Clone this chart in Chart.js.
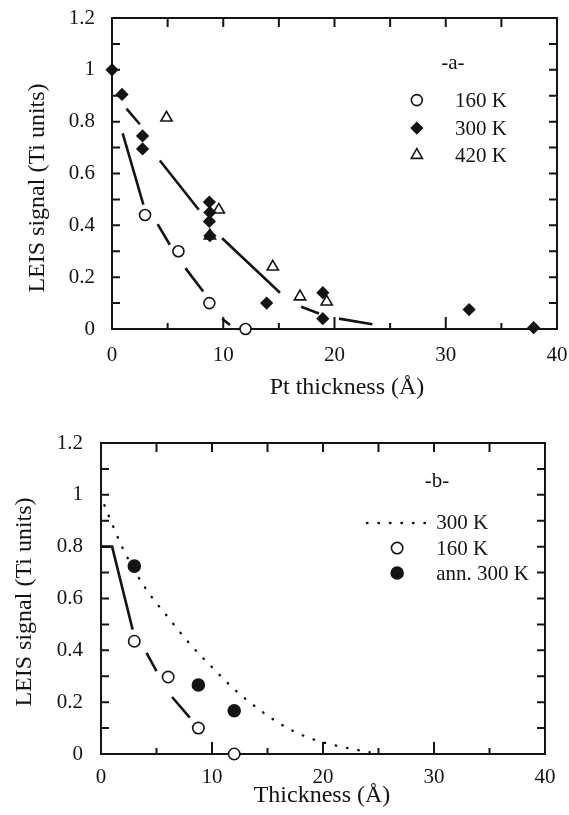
<!DOCTYPE html>
<html>
<head>
<meta charset="utf-8">
<script src="https://cdn.jsdelivr.net/npm/chart.js@4.4.1/dist/chart.umd.min.js"></script>
<style>
  html, body { margin: 0; padding: 0; background: #fff; }
  .panel { position: absolute; left: 0; width: 569px; }
</style>
</head>
<body>
<div class="panel" style="top:0;height:408px"><canvas id="chartA"></canvas></div>
<div class="panel" style="top:408px;height:407px"><canvas id="chartB"></canvas></div>
<script>
// ---- panel a : LEIS signal vs Pt thickness ----
const circA_x = [2.97, 5.97, 8.75, 12.0];
const circA_y = [0.44, 0.30, 0.10, 0.0];
const diamA_x = [0, 0.9, 2.75, 2.75, 8.75, 8.8, 8.75, 8.8, 13.9, 18.95, 18.95, 32.1, 37.9];
const diamA_y = [1.0, 0.905, 0.745, 0.695, 0.49, 0.45, 0.415, 0.36, 0.10, 0.14, 0.04, 0.075, 0.005];
const triA_x = [4.9, 9.6, 8.8, 14.45, 16.9, 19.3];
const triA_y = [0.815, 0.46, 0.36, 0.24, 0.125, 0.105];
// dashed guide curves (null = gap in the dash)
const fit160A_x = [0.96, 2.82, 3.5, 4.1, 5.2, 5.9, 6.6, 8.2, 9.0, 9.9, 10.6];
const fit160A_y = [0.755, 0.48, null, 0.405, 0.325, null, 0.235, 0.145, null, 0.04, 0.015];
const fit300A_x = [1.3, 2.5, 3.4, 4.3, 7.8, 8.9, 9.9, 15.1, 16.0, 17.0, 18.6, 19.5, 20.4, 23.4];
const fit300A_y = [0.85, 0.79, null, 0.65, 0.46, null, 0.35, 0.14, null, 0.086, 0.06, null, 0.04, 0.018];

// ---- panel b : LEIS signal vs thickness ----
const dot300B_x = [0.3, 2, 4, 6, 8, 10, 12, 14, 16, 18, 20, 22, 24.2];
const dot300B_y = [0.96, 0.79, 0.64, 0.53, 0.425, 0.335, 0.25, 0.18, 0.12, 0.075, 0.045, 0.025, 0.007];
const circB_x = [3.0, 6.05, 8.77, 12.0];
const circB_y = [0.435, 0.297, 0.10, 0.0];
const annB_x = [3.0, 8.77, 12.0];
const annB_y = [0.725, 0.266, 0.167];
const fit160B_x = [0, 1.0, 2.85, 3.5, 4.1, 5.0, 5.7, 6.4, 8.0];
const fit160B_y = [0.80, 0.80, 0.48, null, 0.39, 0.32, null, 0.22, 0.14];

const xTicks = [0, 10, 20, 30, 40];
const yTicks = [0, 0.2, 0.4, 0.6, 0.8, 1, 1.2];

const SERIF = '"Liberation Serif", "Times New Roman", serif';
const INK = '#141414';

const pts = (xs, ys) => xs.map((x, i) => ({ x: x, y: ys[i] }));

function marker(label, xs, ys, style, fill, radius) {
    return {
        label: label,
        data: pts(xs, ys),
        showLine: false,
        pointStyle: style,
        pointRadius: radius,
        pointHoverRadius: radius,
        backgroundColor: fill,
        borderColor: INK,
        borderWidth: 1.6,
        pointBackgroundColor: fill,
        pointBorderColor: INK,
        pointBorderWidth: 1.6,
        clip: false,
        order: 0
    };
}

function curve(label, xs, ys, extra) {
    return Object.assign({
        label: label,
        data: pts(xs, ys),
        showLine: true,
        spanGaps: false,
        pointRadius: 0,
        borderColor: INK,
        borderWidth: 2.6,
        backgroundColor: INK,
        fill: false,
        order: 1
    }, extra || {});
}

// frame with inward ticks on all four sides, plus axis titles
const frameTicks = {
    id: 'frameTicks',
    beforeDatasetsDraw(chart, args, o) {
        const { ctx, chartArea: a } = chart;
        const x = chart.scales.x, y = chart.scales.y;
        ctx.save();
        ctx.strokeStyle = INK;
        ctx.lineWidth = 2;
        ctx.strokeRect(a.left, a.top, a.right - a.left, a.bottom - a.top);
        ctx.beginPath();
        const nx = Math.round((x.max - x.min) / 5);
        for (let i = 1; i < nx; i++) {
            const px = x.getPixelForValue(x.min + i * 5);
            const len = i % 2 === 0 ? o.bottomMajor : o.bottomMinor;
            ctx.moveTo(px, a.bottom); ctx.lineTo(px, a.bottom - len);
            ctx.moveTo(px, a.top); ctx.lineTo(px, a.top + o.top);
        }
        const ny = Math.round((y.max - y.min) / 0.1);
        for (let j = 1; j < ny; j++) {
            const py = y.getPixelForValue(y.min + j * 0.1);
            ctx.moveTo(a.left, py); ctx.lineTo(a.left + o.side, py);
            ctx.moveTo(a.right, py); ctx.lineTo(a.right - o.side, py);
        }
        ctx.stroke();
        ctx.restore();
    },
    afterDraw(chart, args, o) {
        const ctx = chart.ctx;
        ctx.save();
        ctx.fillStyle = INK;
        ctx.font = o.xTitle.size + 'px ' + SERIF;
        ctx.textAlign = 'center';
        ctx.textBaseline = 'alphabetic';
        ctx.fillText(o.xTitle.text, o.xTitle.x, o.xTitle.y);
        ctx.translate(o.yTitle.x, o.yTitle.y);
        ctx.rotate(-Math.PI / 2);
        ctx.font = o.yTitle.size + 'px ' + SERIF;
        ctx.textBaseline = 'middle';
        ctx.fillText(o.yTitle.text, 0, 0);
        ctx.restore();
    }
};

// legend placed inside the plot, positions as fractions of the plot area
const insetLegend = {
    id: 'insetLegend',
    afterDatasetsDraw(chart, args, o) {
        const { ctx, chartArea: a } = chart;
        const fx = f => a.left + f * (a.right - a.left);
        const fy = f => a.top + f * (a.bottom - a.top);
        ctx.save();
        ctx.font = '21px ' + SERIF;
        ctx.fillStyle = INK;
        ctx.textBaseline = 'middle';
        ctx.textAlign = 'center';
        ctx.fillText(o.tag, fx(o.tagX), fy(o.tagY));
        ctx.textAlign = 'left';
        o.rows.forEach((dsIndex, i) => {
            const ds = chart.data.datasets[dsIndex];
            const yy = fy(o.rowY[i]);
            if (ds.showLine) {
                ctx.save();
                ctx.strokeStyle = ds.borderColor;
                ctx.lineWidth = ds.borderWidth;
                ctx.lineCap = ds.borderCapStyle || 'butt';
                ctx.setLineDash(ds.borderDash || []);
                ctx.beginPath();
                ctx.moveTo(fx(o.lineX[0]), yy);
                ctx.lineTo(fx(o.lineX[1]), yy);
                ctx.stroke();
                ctx.restore();
            } else {
                ctx.save();
                ctx.fillStyle = ds.backgroundColor;
                ctx.strokeStyle = ds.borderColor;
                ctx.lineWidth = ds.borderWidth;
                Chart.helpers.drawPoint(ctx, {
                    pointStyle: ds.pointStyle, radius: ds.pointRadius,
                    borderWidth: ds.borderWidth, rotation: 0
                }, fx(o.markX), yy);
                ctx.restore();
            }
            ctx.fillStyle = INK;
            ctx.fillText(ds.label, fx(o.textX), yy + 1);
        });
        ctx.restore();
    }
};

function makePanel(id, datasets, geo, legend, titles) {
    const tickFont = { family: SERIF, size: 21 };
    new Chart(document.getElementById(id), {
        type: 'scatter',
        data: { datasets: datasets },
        plugins: [frameTicks, insetLegend],
        options: {
            responsive: true,
            maintainAspectRatio: false,
            animation: false,
            locale: 'en-US',
            events: [],
            layout: { padding: geo.padding },
            scales: {
                x: {
                    type: 'linear',
                    min: xTicks[0], max: xTicks[xTicks.length - 1],
                    afterBuildTicks: s => { s.ticks = xTicks.map(v => ({ value: v })); },
                    afterFit: s => { s.height = 60; s.paddingLeft = 0; s.paddingRight = 0; },
                    grid: { display: false, drawTicks: false },
                    border: { display: false },
                    ticks: {
                        font: tickFont, color: INK, padding: geo.xPad, maxRotation: 0,
                        callback: v => String(v)
                    }
                },
                y: {
                    type: 'linear',
                    min: yTicks[0], max: yTicks[yTicks.length - 1],
                    afterBuildTicks: s => { s.ticks = yTicks.map(v => ({ value: v })); },
                    afterFit: s => { s.width = geo.yWidth; s.paddingTop = 0; s.paddingBottom = 0; },
                    grid: { display: false, drawTicks: false },
                    border: { display: false },
                    ticks: {
                        font: tickFont, color: INK, padding: geo.yPad,
                        callback: v => String(Math.round(v * 10) / 10)
                    }
                }
            },
            plugins: {
                legend: { display: false },
                tooltip: { enabled: false },
                frameTicks: Object.assign({ top: 9, side: 8, bottomMajor: 12, bottomMinor: 6 }, titles),
                insetLegend: legend
            }
        }
    });
}

makePanel('chartA', [
    marker('160 K', circA_x, circA_y, 'circle', '#fff', 5.5),
    marker('300 K', diamA_x, diamA_y, 'rectRot', INK, 5.5),
    marker('420 K', triA_x, triA_y, 'triangle', '#fff', 6.5),
    curve('fit 160 K', fit160A_x, fit160A_y),
    curve('fit 300 K', fit300A_x, fit300A_y)
], {
    padding: { top: 18, right: 12, bottom: 19, left: 0 },
    yWidth: 112, xPad: 14, yPad: 17
}, {
    tag: '-a-', tagX: 0.766, tagY: 0.145,
    rows: [0, 1, 2], rowY: [0.264, 0.354, 0.441],
    markX: 0.685, textX: 0.771
}, {
    xTitle: { text: 'Pt thickness (Å)', x: 347, y: 394, size: 24 },
    yTitle: { text: 'LEIS signal (Ti units)', x: 38, y: 188, size: 24 }
});

makePanel('chartB', [
    curve('300 K', dot300B_x, dot300B_y, {
        borderWidth: 2.4, borderDash: [0.5, 11], borderCapStyle: 'round',
        cubicInterpolationMode: 'monotone'
    }),
    marker('160 K', circB_x, circB_y, 'circle', '#fff', 5.7),
    marker('ann. 300 K', annB_x, annB_y, 'circle', INK, 6),
    curve('fit 160 K', fit160B_x, fit160B_y)
], {
    padding: { top: 35, right: 24, bottom: 1, left: 0 },
    yWidth: 101, xPad: 11, yPad: 18
}, {
    tag: '-b-', tagX: 0.757, tagY: 0.125,
    rows: [0, 1, 2], rowY: [0.257, 0.338, 0.418],
    lineX: [0.599, 0.734], markX: 0.667, textX: 0.755
}, {
    xTitle: { text: 'Thickness (Å)', x: 322, y: 394, size: 24 },
    yTitle: { text: 'LEIS signal (Ti units)', x: 25, y: 194, size: 24 }
});
</script>
</body>
</html>
